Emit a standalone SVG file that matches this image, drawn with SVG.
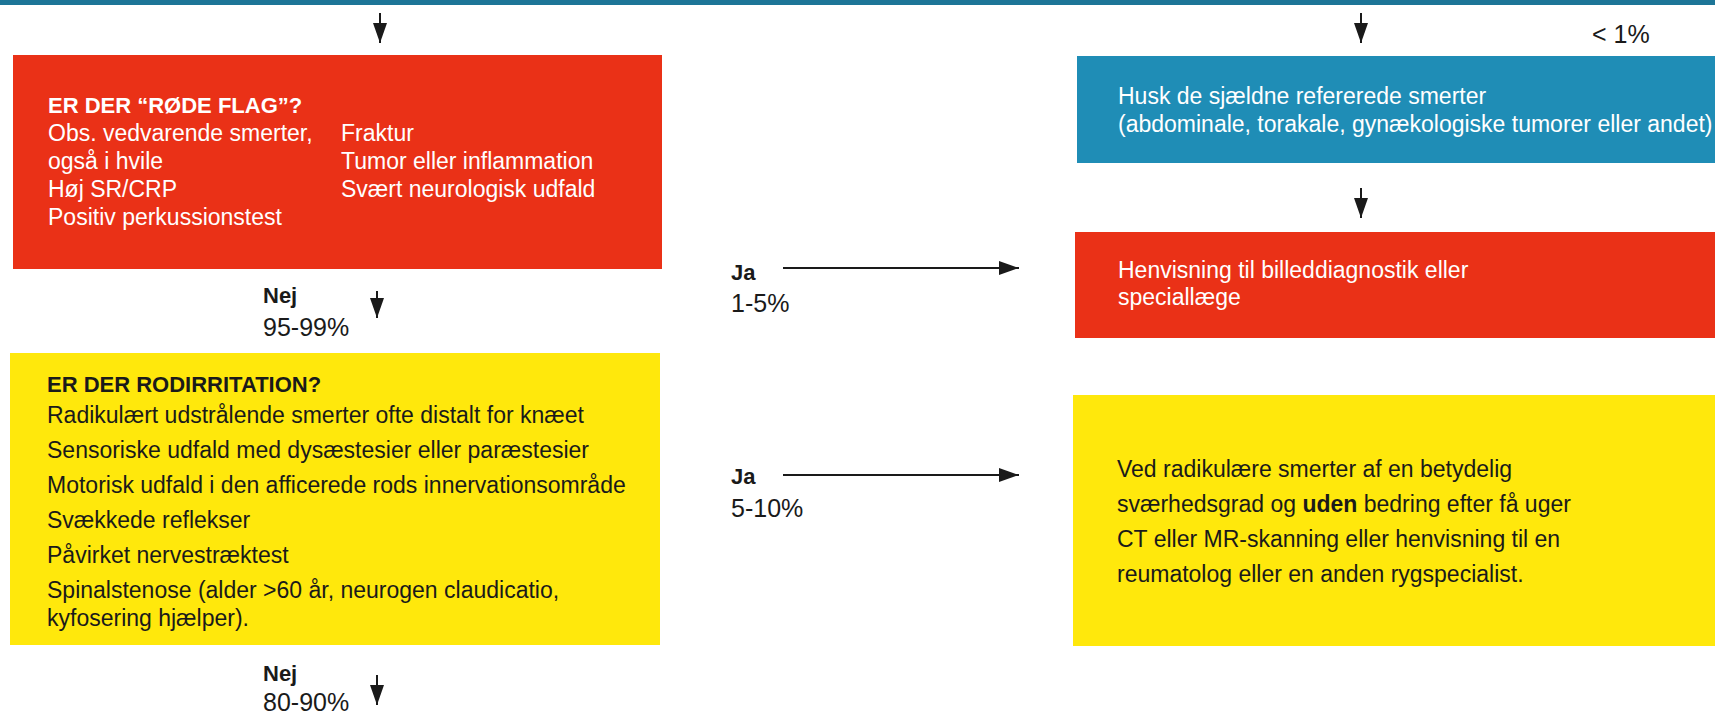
<svg xmlns="http://www.w3.org/2000/svg" width="1715" height="714" viewBox="0 0 1715 714">
  <defs>
    <style>
      text { font-family: "Liberation Sans", Arial, sans-serif; font-size: 23px; }
      .w { fill: #ffffff; }
      .k { fill: #1a1a1a; }
      .b { font-weight: bold; font-size: 22px; }
      .p { font-size: 25px; }
      .red { fill: #ea3117; }
      .yel { fill: #ffe80c; }
      .blu { fill: #1f8db6; }
      .arr { stroke: #1a1a1a; stroke-width: 2; fill: none; }
    </style>
    <marker id="ah" markerUnits="userSpaceOnUse" markerWidth="20" markerHeight="14" refX="20" refY="7" orient="auto">
      <path d="M0,0 L20,7 L0,14 Z" fill="#1a1a1a"/>
    </marker>
  </defs>

  <rect x="0" y="0" width="1715" height="5" fill="#1d7597"/>

  <g id="node-red-flags">
    <rect class="red" x="13" y="55" width="649" height="214"/>
    <text class="w b" x="48" y="113">ER DER “RØDE FLAG”?</text>
    <text class="w" x="48" y="141">Obs. vedvarende smerter,</text>
    <text class="w" x="48" y="169">også i hvile</text>
    <text class="w" x="48" y="197">Høj SR/CRP</text>
    <text class="w" x="48" y="225">Positiv perkussionstest</text>
    <text class="w" x="341" y="141">Fraktur</text>
    <text class="w" x="341" y="169">Tumor eller inflammation</text>
    <text class="w" x="341" y="197">Svært neurologisk udfald</text>
  </g>

  <g id="node-rodirritation">
    <rect class="yel" x="10" y="353" width="650" height="292"/>
    <text class="k b" x="47" y="392">ER DER RODIRRITATION?</text>
    <text class="k" x="47" y="423">Radikulært udstrålende smerter ofte distalt for knæet</text>
    <text class="k" x="47" y="458">Sensoriske udfald med dysæstesier eller paræstesier</text>
    <text class="k" x="47" y="493">Motorisk udfald i den afficerede rods innervationsområde</text>
    <text class="k" x="47" y="528">Svækkede reflekser</text>
    <text class="k" x="47" y="563">Påvirket nervestræktest</text>
    <text class="k" x="47" y="598">Spinalstenose (alder &gt;60 år, neurogen claudicatio,</text>
    <text class="k" x="47" y="626">kyfosering hjælper).</text>
  </g>

  <g id="node-referred-pain">
    <rect class="blu" x="1077" y="56" width="638" height="107"/>
    <text class="w" x="1118" y="104">Husk de sjældne refererede smerter</text>
    <text class="w" x="1118" y="132">(abdominale, torakale, gynækologiske tumorer eller andet)</text>
  </g>

  <g id="node-referral">
    <rect class="red" x="1075" y="232" width="640" height="106"/>
    <text class="w" x="1118" y="278">Henvisning til billeddiagnostik eller</text>
    <text class="w" x="1118" y="305">speciallæge</text>
  </g>

  <g id="node-radicular">
    <rect class="yel" x="1073" y="395" width="642" height="251"/>
    <text class="k" x="1117" y="477">Ved radikulære smerter af en betydelig</text>
    <text class="k" x="1117" y="512">sværhedsgrad og <tspan font-weight="bold">uden</tspan> bedring efter få uger</text>
    <text class="k" x="1117" y="547">CT eller MR-skanning eller henvisning til en</text>
    <text class="k" x="1117" y="582">reumatolog eller en anden rygspecialist.</text>
  </g>

  <g id="connectors">
    <line class="arr" x1="380" y1="13" x2="380" y2="43" marker-end="url(#ah)"/>
    <line class="arr" x1="377" y1="291" x2="377" y2="318" marker-end="url(#ah)"/>
    <line class="arr" x1="377" y1="675" x2="377" y2="705" marker-end="url(#ah)"/>
    <line class="arr" x1="1361" y1="13" x2="1361" y2="43" marker-end="url(#ah)"/>
    <line class="arr" x1="1361" y1="188" x2="1361" y2="218" marker-end="url(#ah)"/>
    <line class="arr" x1="783" y1="268" x2="1019" y2="268" marker-end="url(#ah)"/>
    <line class="arr" x1="783" y1="475" x2="1019" y2="475" marker-end="url(#ah)"/>

    <text class="k b" x="263" y="303">Nej</text>
    <text class="k p" x="263" y="336">95-99%</text>
    <text class="k b" x="263" y="681">Nej</text>
    <text class="k p" x="263" y="711">80-90%</text>
    <text class="k b" x="731" y="280">Ja</text>
    <text class="k p" x="731" y="312">1-5%</text>
    <text class="k b" x="731" y="484">Ja</text>
    <text class="k p" x="731" y="517">5-10%</text>
    <text class="k p" x="1592" y="43">&lt; 1%</text>
  </g>
</svg>
